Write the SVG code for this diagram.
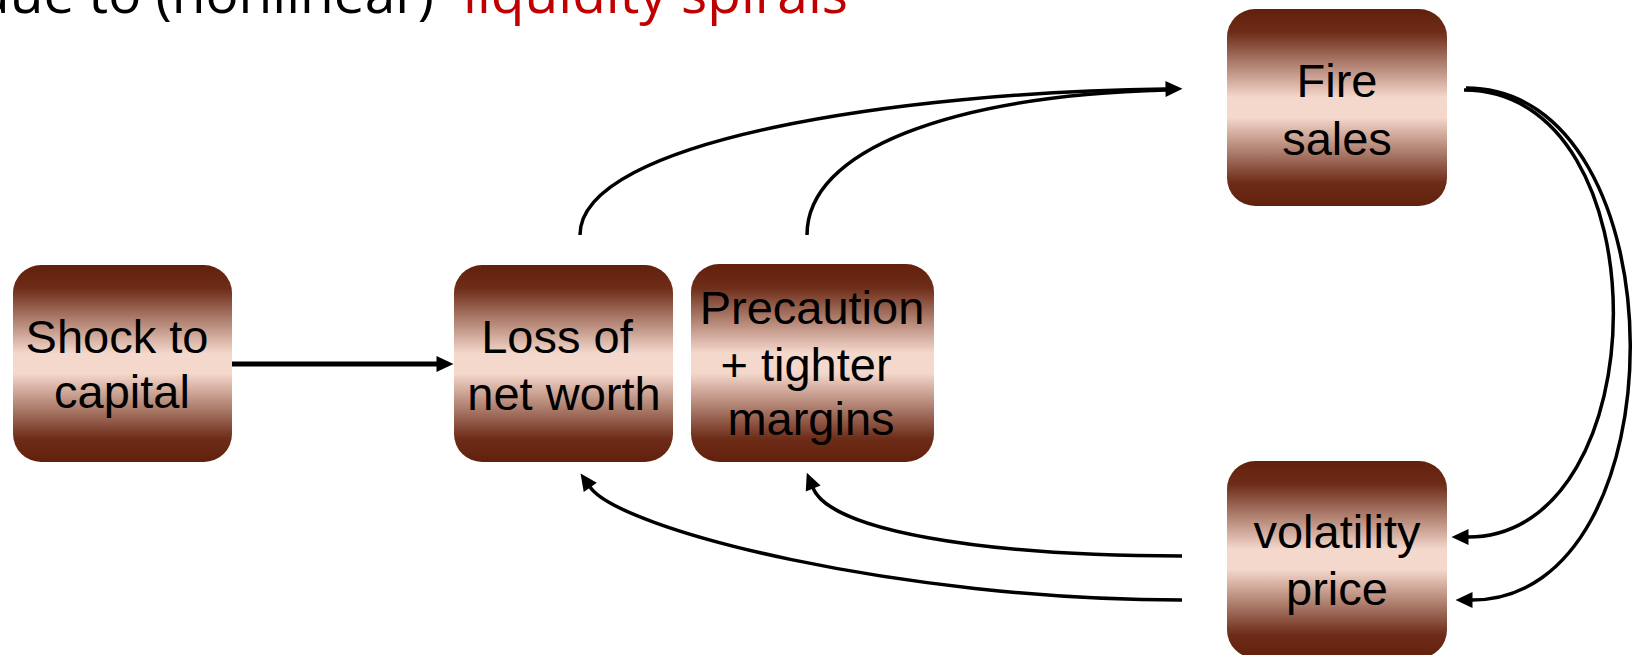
<svg xmlns="http://www.w3.org/2000/svg" width="1637" height="655" viewBox="0 0 1637 655">
<style>
.box{fill:url(#g);}
.lbl{font-family:"Liberation Sans",Arial,sans-serif;font-size:47px;fill:#000;text-anchor:middle;}
.c{fill:none;stroke:#000;stroke-width:3.5;}
.title{font-family:"Open Sans","Noto Sans",sans-serif;font-size:55px;}
</style>
<defs>
<linearGradient id="g" x1="0" y1="0" x2="0" y2="1">
<stop offset="0" stop-color="#62200c"/>
<stop offset="0.12" stop-color="#6e2d19"/>
<stop offset="0.45" stop-color="#f5d8cc"/>
<stop offset="0.55" stop-color="#f5d8cc"/>
<stop offset="0.88" stop-color="#6e2d19"/>
<stop offset="1" stop-color="#62200c"/>
</linearGradient>
<marker id="ah" markerUnits="userSpaceOnUse" viewBox="0 -10 20 20" markerWidth="20" markerHeight="20" refX="0.5" refY="0" orient="auto" overflow="visible">
<path d="M0,-8 L17,0 L0,8 z" fill="#000"/>
</marker>
</defs>
<text class="title" x="434" y="13" text-anchor="end" fill="#000">due to (nonlinear)</text>
<text class="title" x="848" y="13" text-anchor="end" fill="#c00000">liquidity spirals</text>
<g id="connectors">
<line x1="232" y1="364" x2="437" y2="364" stroke="#000" stroke-width="5" marker-end="url(#ah)"/>
<path class="c" d="M580,235 C580,140 900,92 1166,89" marker-end="url(#ah)"/>
<path class="c" d="M807,235 C807,150 950,96 1166,90"/>
<path class="c" d="M1464,90 C1665,90 1660,537 1468,537" marker-end="url(#ah)"/>
<path class="c" d="M1466,88 C1684,88 1684,600 1472,600" marker-end="url(#ah)"/>
<path class="c" d="M1182,556 C980,556 830,530 813,488" marker-end="url(#ah)"/>
<path class="c" d="M1182,600 C900,600 620,530 590,487" marker-end="url(#ah)"/>
</g>
<g id="shock">
<rect class="box" x="13" y="265" width="219" height="197" rx="28"/>
<text class="lbl" x="117" y="353">Shock to</text>
<text class="lbl" x="122" y="408">capital</text>
</g>
<g id="loss">
<rect class="box" x="454" y="265" width="219" height="197" rx="28"/>
<text class="lbl" x="557" y="353">Loss of</text>
<text class="lbl" x="564" y="410">net worth</text>
</g>
<g id="precaution">
<rect class="box" x="691" y="264" width="243" height="198" rx="28"/>
<text class="lbl" x="812" y="324">Precaution</text>
<text class="lbl" x="806" y="381">+ tighter</text>
<text class="lbl" x="811" y="435">margins</text>
</g>
<g id="fire">
<rect class="box" x="1227" y="9" width="220" height="197" rx="28"/>
<text class="lbl" x="1337" y="97">Fire</text>
<text class="lbl" x="1337" y="155">sales</text>
</g>
<g id="volatility">
<rect class="box" x="1227" y="461" width="220" height="197" rx="28"/>
<text class="lbl" x="1337" y="548">volatility</text>
<text class="lbl" x="1337" y="605">price</text>
</g>
</svg>
